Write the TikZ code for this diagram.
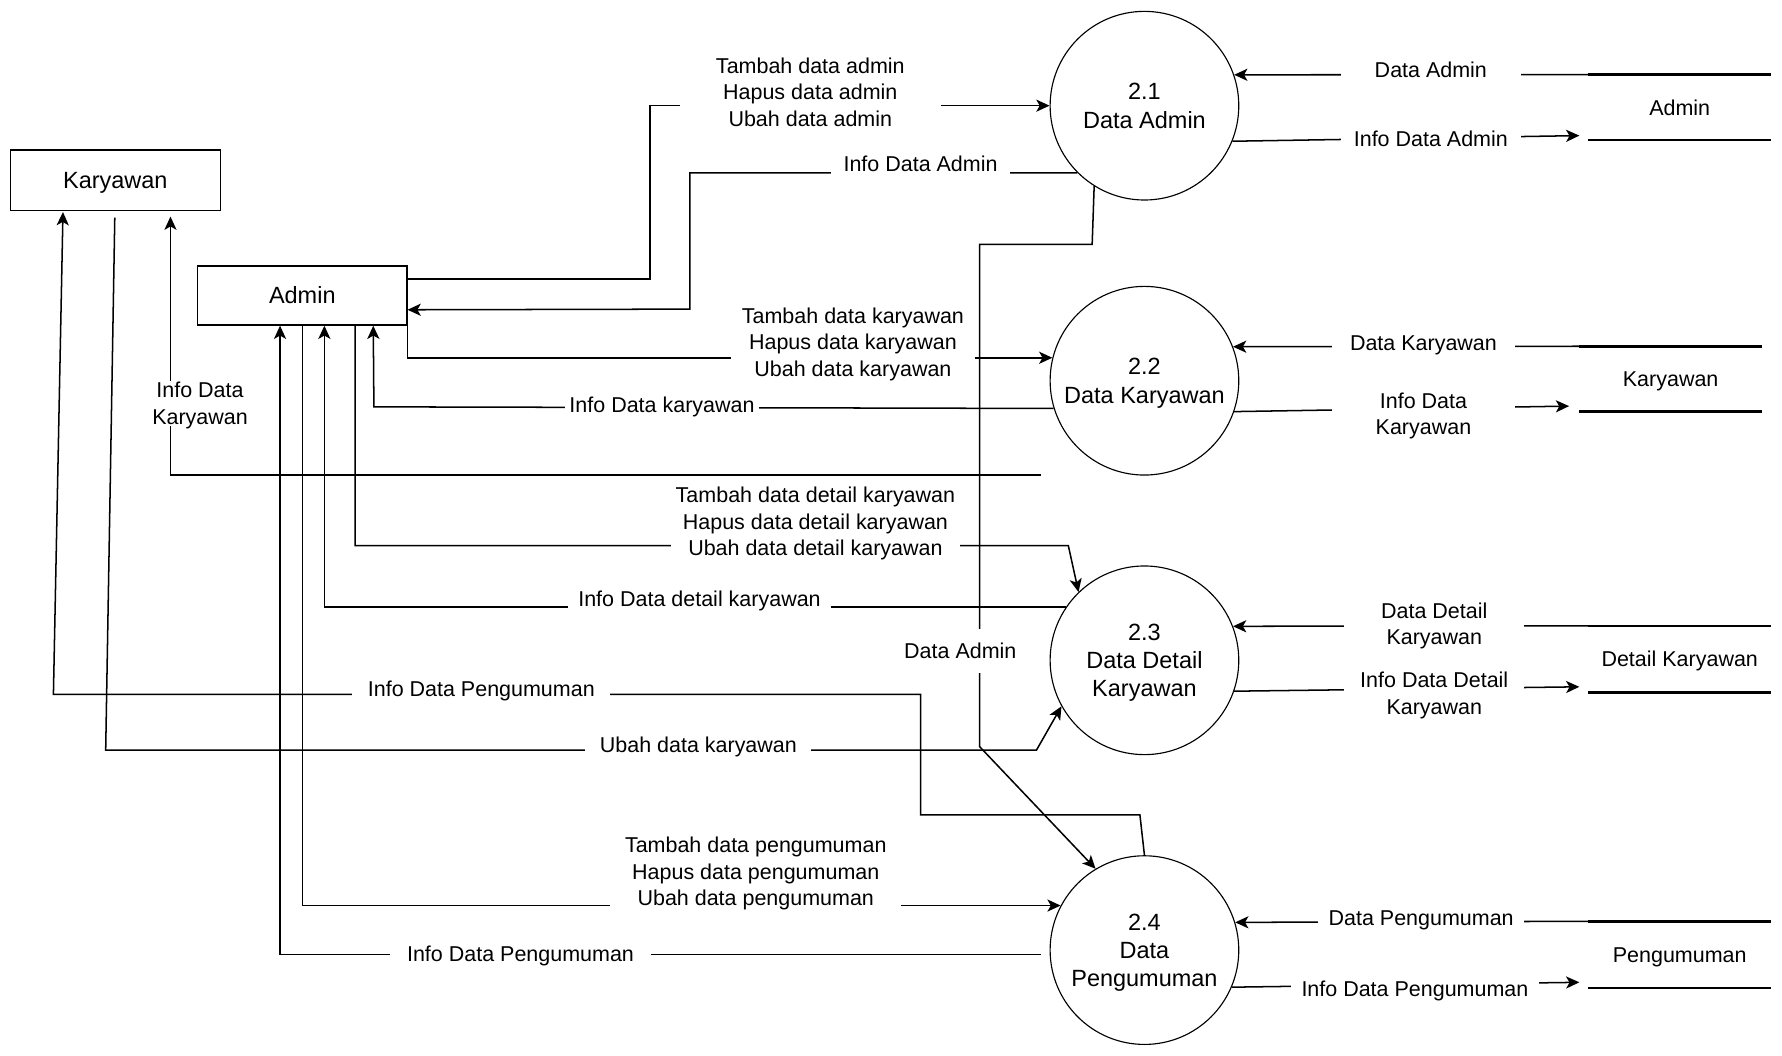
\documentclass[tikz,border=0pt]{standalone}
\usepackage{fontspec}
\setmainfont{Liberation Sans}
\usetikzlibrary{arrows.meta,calc}
\newcommand\lblfont{\fontsize{11.34pt}{14pt}\selectfont}
\newcommand\entfont{\fontsize{12.4pt}{14.9pt}\selectfont}
\begin{document}
\begin{tikzpicture}[x=0.6pt,y=-0.6pt,
  conn/.style={line width=0.8pt,-{Stealth[length=7pt,width=6.4pt,inset=1.8pt]}},
  ent/.style={draw,line width=0.7pt,rectangle,minimum height=31.8pt,inner sep=0pt,text depth=0pt,font=\entfont},
  proc/.style={draw,line width=0.6pt,circle,minimum size=99.6pt,inner sep=0pt,align=center,text depth=0pt,font=\entfont},
  store/.style={rectangle,minimum width=96pt,minimum height=34.2pt,inner sep=0pt,text depth=0pt,font=\lblfont},
  sline/.style={line width=1.4pt},
  lbl/.style={fill=white,inner xsep=0pt,inner ysep=1pt,minimum height=18pt,align=center,text depth=0pt,font=\lblfont}
]
\useasboundingbox (0,0) rectangle (1568,929);

% entities
\node[ent,minimum width=111pt] (kary) at (101.5,158.5) {Karyawan};
\node[ent,minimum width=110.4pt,minimum height=31.2pt] (adm) at (266,260) {Admin};

% processes
\node[proc] (p21) at (1007,93) {2.1\\Data Admin};
\node[proc] (p22) at (1007,335) {2.2\\Data Karyawan};
\node[proc] (p23) at (1007,581) {2.3\\Data Detail\\Karyawan};
\node[proc] (p24) at (1007,836) {2.4\\Data\\Pengumuman};

% stores
\node[store] (sAdm) at (1478,94.5) {Admin};
\node[store] (sKar) at (1470,333.5) {Karyawan};
\node[store,minimum height=34.8pt] (sDet) at (1478,580) {Detail Karyawan};
\node[store,minimum height=34.8pt] (sPen) at (1478,840) {Pengumuman};
\foreach \s in {sAdm,sKar,sDet,sPen}{
  \draw[sline] (\s.north west) -- (\s.north east);
  \draw[sline] (\s.south west) -- (\s.south east);
}

% free ends
\coordinate (c22b) at (916,418);
\coordinate (c24w) at (916,840);

% connectors left/middle
\draw[conn] ($(adm.north east)+(0,12)$) -| (572,93) -- (p21.west);
\draw[conn] (p21.225) -| (607,272) -- ($(adm.south east)+(0,-14)$);
\draw[conn] (adm.south east) |- (p22.166);
\draw[conn] (p22.197) -- (329,358) -- ($(adm.south west)+(155,0)$);
\draw[conn] (c22b) -| ($(kary.south)+(48.5,5)$);
\draw[conn] ($(adm.south west)+(139,0)$) |- (940,480) -- (p23.134);
\draw[conn] (p23.146) -| ($(adm.south west)+(112,0)$);
\draw[conn] (p24.north) -- (1003,717) -- (810,717) -- (810,611) -- (47,611) -- ($(kary.south west)+(47,1)$);
\draw[conn] ($(kary.south)+(-0.5,6)$) -- (93,660) -- (912,660) -- (p23.209.5);
\draw[conn] (adm.south) |- (p24.152.8);
\draw[conn] (c24w) -| ($(adm.south west)+(73,0)$);
\draw[conn] (p21.-122) -- (961,215) -- (862,215) -- (862,657) -- (p24.121.3);

% connectors right
\draw[conn] (sAdm.north west) -- (p21.19);
\draw[conn] (p21.-22) -- ($(sAdm.south west)+(-8,-4)$);
\draw[conn] (sKar.north west) -- (p22.21.2);
\draw[conn] (p22.-19.7) -- ($(sKar.south west)+(-9,-5)$);
\draw[conn] (sDet.north west) -- (p23.21.2);
\draw[conn] (p23.-19.7) -- ($(sDet.south west)+(-8,-5)$);
\draw[conn] (sPen.north west) -- (p24.17.5);
\draw[conn] (p24.-23.4) -- ($(sPen.south west)+(-8,-5)$);

% labels
\node[lbl,minimum width=138pt] (l1) at (713,81) {Tambah data admin\\Hapus data admin\\Ubah data admin};
\node[lbl,minimum width=94.8pt] (l2) at (810,144) {Info Data Admin};
\node[lbl,minimum width=129pt] (l3) at (750.5,301) {Tambah data karyawan\\Hapus data karyawan\\Ubah data karyawan};
\node[lbl,minimum width=102.6pt] (l4) at (582.5,356) {Info Data karyawan};
\node[lbl] (l5) at (176,355) {Info Data\\Karyawan};
\node[lbl,minimum width=153pt] (l6) at (717.5,459) {Tambah data detail karyawan\\Hapus data detail karyawan\\Ubah data detail karyawan};
\node[lbl,minimum width=138.6pt] (l7) at (615.5,527) {Info Data detail karyawan};
\node[lbl,minimum height=23.4pt] (l8) at (845,573) {Data Admin};
\node[lbl,minimum width=136.2pt] (l9) at (423.5,606) {Info Data Pengumuman};
\node[lbl,minimum width=119.4pt] (l10) at (614.5,655) {Ubah data karyawan};
\node[lbl,minimum width=153.6pt,minimum height=44pt] (l11) at (665,767) {Tambah data pengumuman\\Hapus data pengumuman\\Ubah data pengumuman};
\node[lbl,minimum width=138pt] (l12) at (458,839) {Info Data Pengumuman};

\node[lbl,minimum width=94.8pt] (r1) at (1259,61) {Data Admin};
\node[lbl,minimum width=94.8pt] (r2) at (1259,122) {Info Data Admin};
\node[lbl,minimum width=96.6pt] (r3) at (1252.5,302) {Data Karyawan};
\node[lbl,minimum width=96.6pt] (r4) at (1252.5,364) {Info Data\\Karyawan};
\node[lbl,minimum width=94.8pt] (r5) at (1262,549) {Data Detail\\Karyawan};
\node[lbl,minimum width=94.8pt] (r6) at (1262,610) {Info Data Detail\\Karyawan};
\node[lbl,minimum width=108.6pt] (r7) at (1250.5,808) {Data Pengumuman};
\node[lbl,minimum width=130.8pt] (r8) at (1245,870) {Info Data Pengumuman};
\end{tikzpicture}
\end{document}
